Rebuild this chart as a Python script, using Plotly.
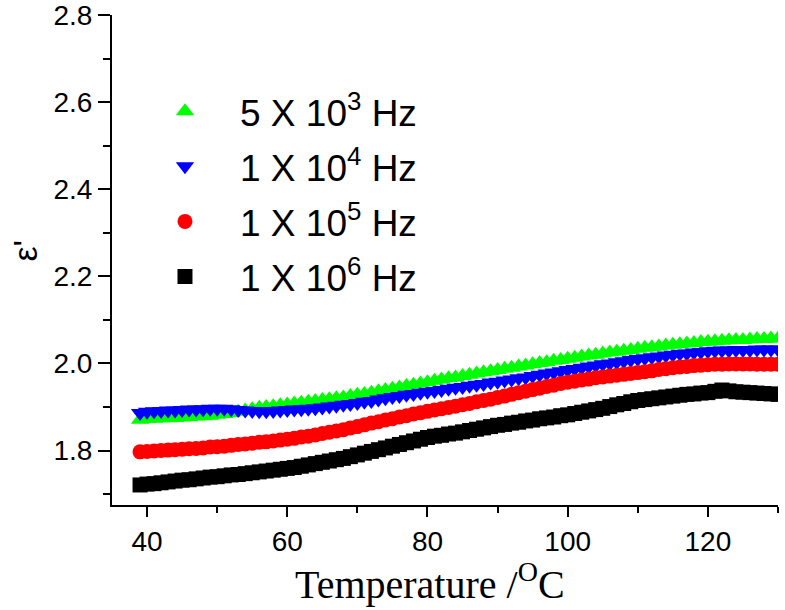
import plotly.graph_objects as go

temperature = [39, 40, 41, 42, 43, 44, 45, 46, 47, 48, 49, 50, 51, 52, 53, 54, 55, 56, 57, 58,
               59, 60, 61, 62, 63, 64, 65, 66, 67, 68, 69, 70, 71, 72, 73, 74, 75, 76, 77, 78,
               79, 80, 81, 82, 83, 84, 85, 86, 87, 88, 89, 90, 91, 92, 93, 94, 95, 96, 97, 98,
               99, 100, 101, 102, 103, 104, 105, 106, 107, 108, 109, 110, 111, 112, 113, 114,
               115, 116, 117, 118, 119, 120, 121, 122, 123, 124, 125, 126, 127, 128, 129, 130]

eps_5e3 = [1.871, 1.873, 1.873, 1.874, 1.874, 1.875, 1.876, 1.877, 1.878, 1.879, 1.880, 1.882,
           1.884, 1.886, 1.889, 1.892, 1.895, 1.898, 1.900, 1.902, 1.904, 1.906, 1.908, 1.910,
           1.912, 1.914, 1.916, 1.918, 1.920, 1.922, 1.925, 1.928, 1.930, 1.933, 1.936, 1.939,
           1.942, 1.945, 1.948, 1.951, 1.954, 1.957, 1.960, 1.963, 1.966, 1.968, 1.971, 1.974,
           1.977, 1.980, 1.982, 1.985, 1.988, 1.990, 1.993, 1.995, 1.998, 2.001, 2.003, 2.006,
           2.008, 2.011, 2.013, 2.016, 2.018, 2.020, 2.023, 2.025, 2.027, 2.029, 2.031, 2.034,
           2.036, 2.037, 2.039, 2.041, 2.043, 2.044, 2.046, 2.047, 2.049, 2.050, 2.051, 2.052,
           2.053, 2.054, 2.054, 2.055, 2.056, 2.056, 2.057, 2.057]

eps_1e4 = [1.886, 1.889, 1.890, 1.891, 1.892, 1.892, 1.893, 1.894, 1.894, 1.895, 1.896, 1.896,
           1.896, 1.895, 1.893, 1.892, 1.891, 1.890, 1.890, 1.891, 1.892, 1.893, 1.894, 1.895,
           1.896, 1.897, 1.899, 1.901, 1.903, 1.905, 1.907, 1.909, 1.912, 1.914, 1.917, 1.920,
           1.923, 1.925, 1.928, 1.930, 1.933, 1.935, 1.937, 1.939, 1.942, 1.944, 1.946, 1.949,
           1.951, 1.953, 1.956, 1.958, 1.961, 1.963, 1.966, 1.968, 1.971, 1.974, 1.977, 1.979,
           1.982, 1.985, 1.987, 1.990, 1.993, 1.995, 1.998, 2.000, 2.003, 2.005, 2.008, 2.010,
           2.012, 2.014, 2.016, 2.018, 2.020, 2.022, 2.023, 2.025, 2.026, 2.028, 2.029, 2.030,
           2.030, 2.031, 2.031, 2.031, 2.032, 2.032, 2.032, 2.032]

eps_1e5 = [1.797, 1.798, 1.799, 1.800, 1.801, 1.802, 1.803, 1.804, 1.805, 1.806, 1.808, 1.809,
           1.810, 1.812, 1.814, 1.815, 1.817, 1.819, 1.820, 1.822, 1.824, 1.826, 1.828, 1.831,
           1.833, 1.836, 1.839, 1.842, 1.845, 1.848, 1.852, 1.855, 1.859, 1.863, 1.866, 1.870,
           1.873, 1.877, 1.880, 1.884, 1.887, 1.890, 1.893, 1.896, 1.899, 1.902, 1.905, 1.908,
           1.912, 1.915, 1.918, 1.922, 1.925, 1.929, 1.933, 1.936, 1.940, 1.943, 1.947, 1.950,
           1.954, 1.957, 1.959, 1.962, 1.964, 1.967, 1.969, 1.971, 1.973, 1.975, 1.977, 1.979,
           1.981, 1.983, 1.986, 1.988, 1.990, 1.992, 1.993, 1.995, 1.996, 1.997, 1.998, 1.998,
           1.999, 1.999, 1.999, 1.999, 1.998, 1.998, 1.998, 1.998]

eps_1e6 = [1.721, 1.723, 1.724, 1.726, 1.728, 1.730, 1.732, 1.733, 1.735, 1.737, 1.739, 1.740,
           1.742, 1.744, 1.745, 1.747, 1.749, 1.751, 1.753, 1.755, 1.757, 1.759, 1.761, 1.764,
           1.767, 1.770, 1.773, 1.776, 1.779, 1.782, 1.786, 1.790, 1.794, 1.798, 1.802, 1.806,
           1.810, 1.814, 1.818, 1.822, 1.826, 1.830, 1.833, 1.835, 1.838, 1.840, 1.843, 1.846,
           1.849, 1.852, 1.855, 1.858, 1.860, 1.863, 1.865, 1.868, 1.870, 1.873, 1.875, 1.877,
           1.880, 1.882, 1.885, 1.888, 1.891, 1.894, 1.897, 1.901, 1.905, 1.908, 1.912, 1.915,
           1.917, 1.919, 1.921, 1.923, 1.925, 1.927, 1.929, 1.930, 1.932, 1.933, 1.936, 1.939,
           1.937, 1.935, 1.934, 1.933, 1.932, 1.931, 1.930, 1.929]

series = [
    ("5 X 10<sup>3</sup> Hz", eps_5e3, "triangle-up", "#00ff00", 16),
    ("1 X 10<sup>4</sup> Hz", eps_1e4, "triangle-down", "#0000ff", 16),
    ("1 X 10<sup>5</sup> Hz", eps_1e5, "circle", "#ff0000", 15),
    ("1 X 10<sup>6</sup> Hz", eps_1e6, "square", "#000000", 15),
]

y_ticks = [1.8, 2.0, 2.2, 2.4, 2.6, 2.8]
y_labels = ["1.8", "2.0", "2.2", "2.4", "2.6", "2.8"]
x_ticks = [40, 60, 80, 100, 120]
x_labels = ["40", "60", "80", "100", "120"]
x_title = "Temperature /<sup>O</sup>C"
y_title = "ε'"

fig = go.Figure()
for i, (name, vals, sym, col, size) in enumerate(series):
    fig.add_trace(go.Scatter(
        x=temperature, y=vals, mode="markers", name=name,
        legendgroup=f"g{i}",
        marker=dict(symbol=sym, color=col, size=size, line=dict(width=0)),
    ))

sans = "Arial, Liberation Sans, sans-serif"
fig.update_layout(
    width=785, height=610,
    margin=dict(l=112, r=7, t=15, b=105),
    paper_bgcolor="white", plot_bgcolor="white",
    font=dict(family=sans, color="black"),
    showlegend=True,
    legend=dict(
        x=0.027, y=0.866, xanchor="left", yanchor="top",
        font=dict(family=sans, size=37, color="black"),
        bgcolor="rgba(0,0,0,0)", tracegroupgap=4,
        itemwidth=100,
    ),
    xaxis=dict(
        range=[35, 130], tickvals=x_ticks, ticktext=x_labels,
        showline=True, linecolor="black", linewidth=2,
        ticks="outside", ticklen=10, tickwidth=2, tickcolor="black",
        minor=dict(dtick=10, tick0=40, ticks="outside", ticklen=6, tickwidth=2, tickcolor="black"),
        showgrid=False, zeroline=False, automargin=False,
        ticklabeloverflow="allow",
        tickfont=dict(family=sans, size=28),
    ),
    yaxis=dict(
        range=[1.675, 2.8], tickvals=y_ticks, ticktext=y_labels,
        showline=True, linecolor="black", linewidth=2,
        ticks="outside", ticklen=12, tickwidth=2, tickcolor="black",
        minor=dict(dtick=0.1, tick0=1.7, ticks="outside", ticklen=7, tickwidth=2, tickcolor="black"),
        showgrid=False, zeroline=False, automargin=False,
        ticklabeloverflow="allow",
        tickfont=dict(family=sans, size=28),
    ),
    annotations=[
        dict(text=x_title, xref="paper", yref="paper", x=0.477, y=-0.157,
             xanchor="center", yanchor="middle", showarrow=False,
             font=dict(family="Times New Roman, Liberation Serif, serif", size=40, color="black")),
        dict(text=y_title, xref="paper", yref="paper", x=-0.13, y=0.52,
             xanchor="center", yanchor="middle", showarrow=False, textangle=-90,
             font=dict(family=sans, size=34, color="black")),
    ],
)

fig.write_html("out.html", config={"displayModeBar": False},
               post_script="document.body.style.margin='0';")
